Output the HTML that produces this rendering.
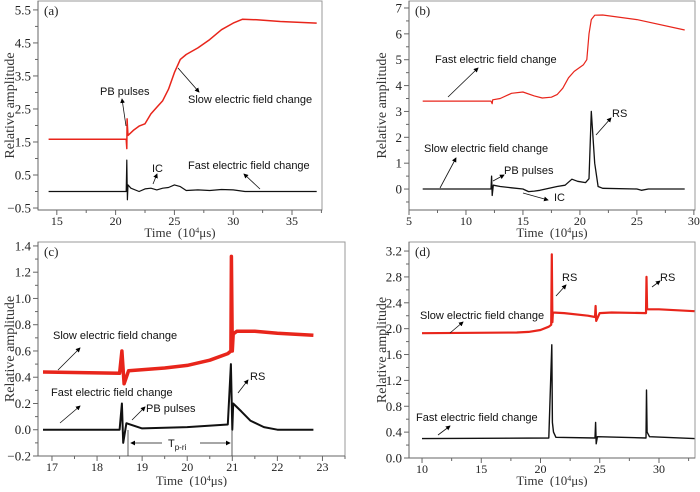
<!DOCTYPE html>
<html><head><meta charset="utf-8"><style>
body{margin:0;background:#fff;width:700px;height:487px;overflow:hidden}
svg text{font-family:"Liberation Serif",serif}
.ann{font-family:"Liberation Sans",sans-serif;font-size:11px}
</style></head><body>
<svg id="fig" width="700" height="487" xmlns="http://www.w3.org/2000/svg">
<defs><marker id="ah" markerWidth="6" markerHeight="6" refX="5" refY="3" orient="auto"><path d="M0,0 L6,3 L0,6 z" fill="#000"/></marker></defs>
</svg>
<script>
// Panel (a)
const aRedX=[14.3,20.9,20.95,20.98,21.0,21.05,21.5,22,22.5,23,23.5,24,24.5,25,25.5,26,27,28,29,30,30.8,32,34,37.1];
const aRedY=[1.58,1.58,1.3,2.2,2.0,1.7,1.85,1.98,2.05,2.35,2.55,2.75,3.1,3.6,4.0,4.15,4.35,4.6,4.9,5.1,5.22,5.2,5.15,5.1];
const aBlkX=[14.3,20.9,20.95,21.0,21.05,21.3,22,22.5,23,23.5,24,24.5,25,25.5,26,27,28,29,30,31,37.1];
const aBlkY=[0,0,0.95,-0.25,0.2,0.1,0.0,0.08,0.1,0.05,0.1,0.12,0.2,0.15,0.03,0.05,0.03,0.06,0.05,0.0,0];
// Panel (b)
const bRedX=[6.2,12.2,12.3,12.35,13,14,15,16,16.7,17.5,18,18.5,19,19.5,20.3,20.6,20.8,21.0,21.3,22,25,29.2];
const bRedY=[3.4,3.4,3.3,3.45,3.5,3.7,3.75,3.6,3.52,3.55,3.65,3.9,4.3,4.55,4.8,5.0,6.0,6.55,6.72,6.73,6.55,6.15];
const bBlkX=[6.2,12.2,12.25,12.3,12.4,13,14,15,15.5,16,16.5,17,18,18.7,19.3,19.8,20.5,20.8,21.0,21.3,21.6,22,25,25.4,26,29.2];
const bBlkY=[0,0,0.5,-0.25,0.15,0.1,0.05,0.0,-0.1,-0.08,-0.05,0,0.1,0.15,0.38,0.3,0.25,0.4,3.0,1.0,0.1,0.03,0.0,-0.05,0,0];
// Panel (c)
const cRedX=[16.8,18.5,18.55,18.6,18.7,19.5,20,20.5,20.9,20.97,20.98,21.0,21.02,21.1,21.5,22,22.8];
const cRedY=[0.44,0.43,0.6,0.35,0.45,0.47,0.49,0.53,0.58,0.6,1.32,0.6,0.73,0.75,0.75,0.735,0.72];
const cBlkX=[16.8,18.5,18.55,18.58,18.65,19,20,20.9,20.97,21.0,21.02,21.2,21.4,21.7,22,22.8];
const cBlkY=[0,0,0.2,-0.1,0.05,0.01,0.02,0.04,0.5,0.0,0.2,0.14,0.07,0.02,0.0,0];
// Panel (d)
const dRedX=[10,18,19,20,20.7,20.9,20.95,21.0,21.05,22,24,24.6,24.65,24.7,25,26,28.9,28.95,29.0,30,33];
const dRedY=[1.93,1.94,1.95,1.98,2.03,2.06,3.15,2.1,2.25,2.24,2.2,2.18,2.35,2.12,2.24,2.25,2.24,2.8,2.3,2.3,2.27];
const dBlkX=[10,20.7,20.95,21.0,21.1,21.3,24.6,24.65,24.7,24.8,28.9,28.95,29,29.2,33];
const dBlkY=[0.3,0.31,1.75,0.55,0.4,0.32,0.31,0.55,0.22,0.33,0.31,1.05,0.4,0.33,0.3];

const svg=document.getElementById('fig');
const NS='http://www.w3.org/2000/svg';
function mk(tag,attrs,parent){const e=document.createElementNS(NS,tag);for(const k in attrs)e.setAttribute(k,attrs[k]);(parent||svg).appendChild(e);return e;}
function fmt(v,d){let s=v.toFixed(d);if(v<-1e-9)s='\u2212'+s.slice(1);return s;}

const panels=[
 {id:'a',L:38,R:322,T:1,B:210,x0:13.4,x1:37.55,y0:-0.56,y1:5.77,xt:[15,35,5],xm:2.5,yt:[-0.5,5.5,1],ym:0.5,yd:1,red:[aRedX,aRedY,1.5],blk:[aBlkX,aBlkY,1.2],ylab:8,xlabY:237},
 {id:'b',L:409,R:695,T:1,B:210,x0:5,x1:30.1,y0:-0.81,y1:7.27,xt:[5,30,5],xm:2.5,yt:[0,7,1],ym:0.5,yd:0,red:[bRedX,bRedY,1.2],blk:[bBlkX,bBlkY,1.3],ylab:380,xlabY:237},
 {id:'c',L:38,R:345,T:242,B:456,x0:16.69,x1:23.5,y0:-0.2,y1:1.43,xt:[17,23,1],xm:0.5,yt:[-0.2,1.4,0.2],ym:0.1,yd:1,red:[cRedX,cRedY,3.5],blk:[cBlkX,cBlkY,2],ylab:8,xlabY:485},
 {id:'d',L:409,R:695,T:242,B:458,x0:8.9,x1:33.04,y0:0,y1:3.34,xt:[10,30,5],xm:2.5,yt:[0,3.2,0.4],ym:0.2,yd:1,red:[dRedX,dRedY,2.2],blk:[dBlkX,dBlkY,1.4],ylab:380,xlabY:485}
];
panels.forEach(p=>{
 const g=mk('g',{});
 
 
 const sx=v=>p.L+(v-p.x0)/(p.x1-p.x0)*(p.R-p.L);
 const sy=v=>p.B-(v-p.y0)/(p.y1-p.y0)*(p.B-p.T);
 const box=mk('rect',{x:p.L,y:p.T,width:p.R-p.L,height:p.B-p.T,fill:'none',stroke:'#999','stroke-width':1},g);
 
 
 mk('line',{x1:p.L,y1:p.T,x2:p.L,y2:p.B,stroke:'#666'},g);
 mk('line',{x1:p.L,y1:p.B,x2:p.R,y2:p.B,stroke:'#666'},g);
 for(let v=Math.ceil(p.x0/p.xm)*p.xm;v<=p.x1+1e-9;v+=p.xm){
  const major=Math.abs(v/p.xt[2]-Math.round(v/p.xt[2]))<1e-6;
  mk('line',{x1:sx(v),y1:p.B,x2:sx(v),y2:p.B+(major?5:3),stroke:'#666'},g);
  if(major&&v>=p.xt[0]-1e-9&&v<=p.xt[1]+1e-9){const t=mk('text',{x:sx(v),y:p.B+15,'font-size':12,'text-anchor':'middle',fill:'#222'},g);t.textContent=String(Math.round(v));
   
   }
 }
 for(let v=Math.ceil(p.y0/p.ym-1e-9)*p.ym;v<=p.y1+1e-9;v+=p.ym){
  const k=(v-p.yt[0])/p.yt[2];const major=Math.abs(k-Math.round(k))<1e-6;
  mk('line',{x1:p.L,y1:sy(v),x2:p.L-(major?5:3),y2:sy(v),stroke:'#666'},g);
  if(major){const t=mk('text',{x:p.L-7,y:sy(v)+4.5,'font-size':13,'text-anchor':'end',fill:'#222'},g);t.textContent=fmt(v,p.yd);
   
   }
 }
 const pl=(arr,col,name)=>{const pts=arr[0].map((x,i)=>sx(x).toFixed(1)+','+sy(arr[1][i]).toFixed(1)).join(' ');
  const e=mk('polyline',{points:pts,fill:'none',stroke:col,'stroke-width':arr[2],'stroke-linejoin':'round'},g);
  
  };
 pl(p.red,'#e8251b','red-series-'+p.id);
 pl(p.blk,'#111','black-series-'+p.id);
 const pt=mk('text',{x:p.L+6,y:p.T+14,'font-size':13,fill:'#222'},g);pt.textContent='('+p.id+')';
 
 
 const cy=(p.T+p.B)/2;
 const yl=mk('text',{x:p.ylab+6,y:cy,'font-size':14,'text-anchor':'middle',fill:'#333',transform:'rotate(-90 '+(p.ylab+6)+' '+cy+')'},g);yl.textContent='Relative amplitude';
 
 
 const xl=mk('text',{x:(p.L+p.R)/2,y:p.xlabY,'font-size':13,'text-anchor':'middle',fill:'#333'},g);
 xl.innerHTML='Time\u2002(10<tspan baseline-shift="super" font-size="8">4</tspan>\u03bcs)';
 
 
});
const anns=[
 ['PB pulses',100,95],['Slow electric field change',188,103],['IC',152,172],['Fast electric field change',188,169],
 ['Fast electric field change',435,63],['Slow electric field change',424,152],['PB pulses',504,174],['IC',554,201],['RS',612,117],
 ['Slow electric field change',53,339],['Fast electric field change',51,396],['PB pulses',146,412],['RS',250,380],
 ['RS',562,281],['RS',660,281],['Slow electric field change',420,319],['Fast electric field change',416,421]
];
anns.forEach(a=>{const t=mk('text',{x:a[1],y:a[2],class:'ann',fill:'#111'});t.textContent=a[0];
 
 });
const arrows=[[126,126,122,99],[178,68,199,92],[153,184,157,174],[260,189,244,174],
 [448,97,478,68],[440,188,456,158],[493,181,504,175],[523,193,548,200],[596,135,611,118],
 [58,370,80,348],[60,423,80,406],[132,420,145,407],[238,393,248,380],[556,296,566,285],[652,287,660,281],[450,333,463,322],[438,435,450,426]];
arrows.forEach(a=>{const l=mk('line',{x1:a[0],y1:a[1],x2:a[2],y2:a[3],stroke:'#111','stroke-width':0.8,'marker-end':'url(#ah)'});
 
 });
mk('line',{x1:128,y1:430,x2:128,y2:456,stroke:'#333','stroke-width':0.8});
mk('line',{x1:232,y1:430,x2:232,y2:456,stroke:'#333','stroke-width':0.8});
mk('line',{x1:162,y1:443,x2:131,y2:443,stroke:'#111','stroke-width':0.8,'marker-end':'url(#ah)'});
mk('line',{x1:200,y1:443,x2:230,y2:443,stroke:'#111','stroke-width':0.8,'marker-end':'url(#ah)'});
const tp=mk('text',{x:168,y:447,class:'ann',fill:'#111'});tp.innerHTML='T<tspan font-size="8" dy="3">p-ri</tspan>';


</script>
</body></html>
